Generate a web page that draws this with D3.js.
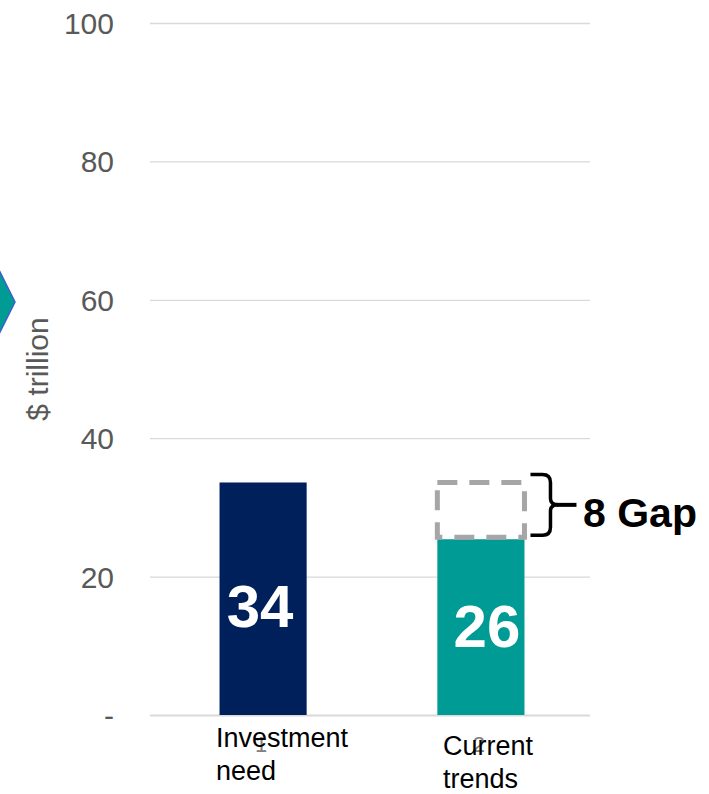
<!DOCTYPE html>
<html>
<head>
<meta charset="utf-8">
<script src="https://cdn.jsdelivr.net/npm/d3@7"></script>
<style>
  body { margin: 0; background: #fff; }
  text { font-family: "Liberation Sans", Arial, sans-serif; }
</style>
</head>
<body>
<svg id="chart"></svg>
<script>
var categories = [["Investment", "need"], ["Current", "trends"]];
var categoryIndex = ["1", "2"];
var values = [33.6, 25.4];
var valueLabels = ["34", "26"];
var yTicks = [0, 20, 40, 60, 80, 100];
var gapLabel = "8 Gap";
var colors = ["#00205B", "#009B95"];

var svgWidth = 709;
var svgHeight = 794;

var svg = d3.select("#chart")
    .attr("width", svgWidth)
    .attr("height", svgHeight);

var x = d3.scaleBand()
    .domain(d3.range(values.length))
    .range([150, 590])
    .paddingInner(0.6)
    .paddingOuter(0.31);

var y = d3.scaleLinear()
    .domain([0, 100])
    .range([715, 23]);

// decorative chevron on left edge
svg.append("polygon")
    .attr("points", "-2,268 15,302 -2,336")
    .attr("fill", "#009B95")
    .attr("stroke", "#3a62c4")
    .attr("stroke-width", 1.5);

// gridlines
svg.selectAll(".grid")
    .data(yTicks)
    .enter()
    .append("line")
    .attr("x1", 150)
    .attr("x2", 590)
    .attr("y1", function(d) { return y(d) + 0.5; })
    .attr("y2", function(d) { return y(d) + 0.5; })
    .attr("stroke", "#d9d9d9")
    .attr("stroke-width", function(d) { return d === 0 ? 2 : 1.3; });

// y tick labels
svg.selectAll(".ytick")
    .data(yTicks)
    .enter()
    .append("text")
    .attr("x", 114)
    .attr("y", function(d) { return y(d) + 11; })
    .attr("text-anchor", "end")
    .attr("font-size", 30)
    .attr("fill", "#595959")
    .text(function(d) { return d === 0 ? "-" : d; });

svg.append("text")
    .attr("transform", "translate(48,369) rotate(-90)")
    .attr("text-anchor", "middle")
    .attr("font-size", 30)
    .attr("fill", "#595959")
    .text("$ trillion");

// bars
svg.selectAll(".bar")
    .data(values)
    .enter()
    .append("rect")
    .attr("x", function(d, i) { return x(i) + 2; })
    .attr("y", function(d) { return y(d); })
    .attr("width", x.bandwidth())
    .attr("height", function(d) { return y(0) - y(d); })
    .attr("fill", function(d, i) { return colors[i]; });

// value labels
svg.selectAll(".vlabel")
    .data(values)
    .enter()
    .append("text")
    .attr("x", function(d, i) { return x(i) + 2 + x.bandwidth() / 2 + (i === 1 ? 6 : -3); })
    .attr("y", function(d, i) { return i === 0 ? 627 : 647; })
    .attr("text-anchor", "middle")
    .attr("font-size", 60)
    .attr("font-weight", "bold")
    .attr("fill", "#fff")
    .text(function(d, i) { return valueLabels[i]; });

// gap dashed box
var gx = x(1) + 2;
svg.append("rect")
    .attr("x", gx)
    .attr("y", y(values[0]))
    .attr("width", x.bandwidth())
    .attr("height", y(values[1]) - y(values[0]) - 2)
    .attr("fill", "none")
    .attr("stroke", "#A6A6A6")
    .attr("stroke-width", 5)
    .attr("stroke-dasharray", "20,12");

// bracket
var bTop = y(values[0]) - 8, bBot = y(values[1]) - 4, bMid = (bTop + bBot) / 2;
var bx = gx + x.bandwidth() + 6;
svg.append("path")
    .attr("d", "M" + bx + "," + bTop +
        " L" + (bx + 12) + "," + bTop +
        " Q" + (bx + 20) + "," + bTop + " " + (bx + 20) + "," + (bTop + 8) +
        " L" + (bx + 20) + "," + (bMid - 6) +
        " Q" + (bx + 20) + "," + bMid + " " + (bx + 28) + "," + bMid +
        " Q" + (bx + 20) + "," + bMid + " " + (bx + 20) + "," + (bMid + 6) +
        " L" + (bx + 20) + "," + (bBot - 8) +
        " Q" + (bx + 20) + "," + bBot + " " + (bx + 12) + "," + bBot +
        " L" + bx + "," + bBot)
    .attr("fill", "none")
    .attr("stroke", "#000")
    .attr("stroke-width", 3.5);
svg.append("line")
    .attr("x1", bx + 26).attr("x2", bx + 46)
    .attr("y1", bMid).attr("y2", bMid)
    .attr("stroke", "#000")
    .attr("stroke-width", 4);

svg.append("text")
    .attr("x", 583)
    .attr("y", 527)
    .attr("font-size", 41)
    .attr("font-weight", "bold")
    .attr("fill", "#000")
    .text(gapLabel);

// category index ticks (1, 2)
svg.selectAll(".idx")
    .data(categoryIndex)
    .enter()
    .append("text")
    .attr("x", function(d, i) { return x(i) + 2 + x.bandwidth() / 2 - 2; })
    .attr("y", 752)
    .attr("text-anchor", "middle")
    .attr("font-size", 22)
    .attr("fill", "#808080")
    .text(function(d) { return d; });

// category labels
var catG = svg.selectAll(".cat")
    .data(categories)
    .enter()
    .append("text")
    .attr("font-size", 27)
    .attr("fill", "#000")
    .attr("x", function(d, i) { return i === 0 ? 216 : 443; })
    .attr("y", function(d, i) { return i === 0 ? 747 : 755; });

catG.selectAll("tspan")
    .data(function(d) { return d; })
    .enter()
    .append("tspan")
    .attr("x", function() { return d3.select(this.parentNode).attr("x"); })
    .attr("dy", function(d, j) { return j === 0 ? 0 : 33; })
    .text(function(d) { return d; });
</script>
</body>
</html>
